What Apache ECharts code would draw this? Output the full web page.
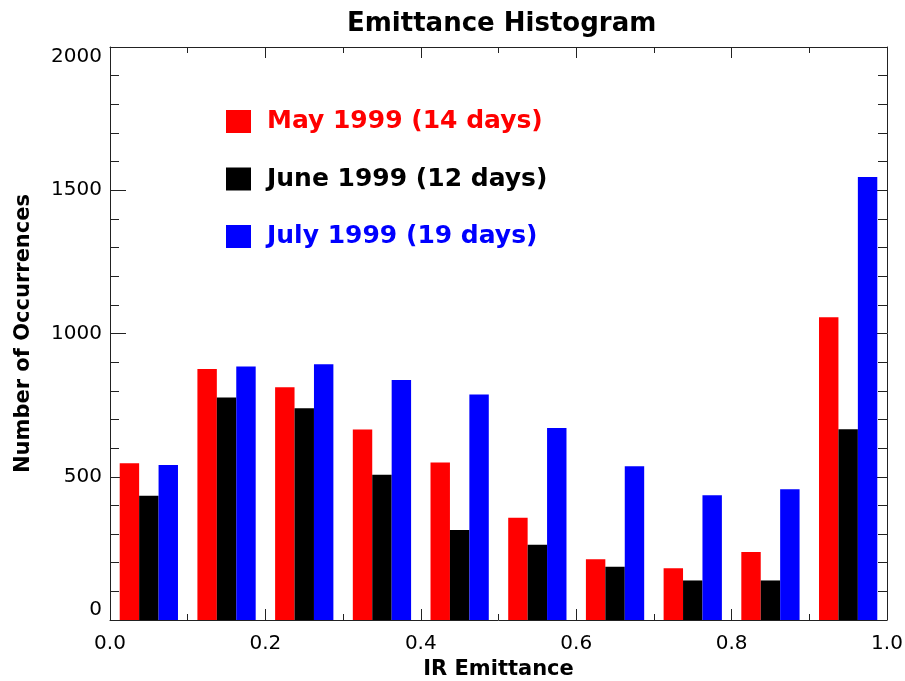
<!DOCTYPE html>
<html>
<head>
<meta charset="utf-8">
<script src="https://cdn.jsdelivr.net/npm/echarts@6/dist/echarts.min.js"></script>
<style>
  html, body { margin: 0; padding: 0; background: #fff; }
  #main { width: 905px; height: 681px; }
</style>
</head>
<body>
<div id="main"></div>
<script>
// bins of IR emittance, width 0.1
var bins = ['0.05', '0.15', '0.25', '0.35', '0.45', '0.55', '0.65', '0.75', '0.85', '0.95'];
var mayCounts = [547, 876, 812, 665, 550, 357, 212, 181, 237, 1057];
var juneCounts = [434, 777, 739, 507, 314, 263, 186, 138, 138, 666];
var julyCounts = [541, 885, 893, 838, 787, 670, 537, 435, 456, 1546];
var seriesNames = ['May 1999 (14 days)', 'June 1999 (12 days)', 'July 1999 (19 days)'];
var seriesColors = ['#ff0000', '#000000', '#0000ff'];

var chart = echarts.init(document.getElementById('main'));
var lineColor = '#222';
var font = 'DejaVu Sans';

// frame axes: ticks point inward, never snap to the other axis' zero
function frameX(pos) {
    return {
        type: 'value',
        position: pos,
        min: 0, max: 1, interval: 0.2,
        axisLine: { show: true, onZero: false, lineStyle: { color: lineColor, width: 1 } },
        axisTick: { show: true, inside: true, length: 11, lineStyle: { color: lineColor } },
        minorTick: { show: true, splitNumber: 2, length: 6, lineStyle: { color: lineColor } },
        splitLine: { show: false },
        axisLabel: { show: false }
    };
}
function frameY(pos) {
    return {
        type: 'value',
        position: pos,
        min: 0, max: 2000, interval: 500,
        axisLine: { show: true, onZero: false, lineStyle: { color: lineColor, width: 1 } },
        axisTick: { show: true, inside: true, length: 16, lineStyle: { color: lineColor } },
        minorTick: { show: true, splitNumber: 5, length: 9, lineStyle: { color: lineColor } },
        splitLine: { show: false },
        axisLabel: { show: false }
    };
}

var xBottom = frameX('bottom');
xBottom.name = 'IR Emittance';
xBottom.nameLocation = 'middle';
xBottom.nameGap = 38;
xBottom.nameTextStyle = { fontFamily: font, fontWeight: 'bold', fontSize: 21, color: '#000' };
xBottom.axisLabel = {
    show: true, margin: 14,
    fontFamily: font, fontSize: 20, color: '#000',
    formatter: function (v) { return v.toFixed(1); }
};

var yLeft = frameY('left');
yLeft.name = 'Number of Occurrences';
yLeft.nameLocation = 'middle';
yLeft.nameGap = 76;
yLeft.nameTextStyle = { fontFamily: font, fontWeight: 'bold', fontSize: 21, color: '#000' };
yLeft.axisLabel = {
    show: true, margin: 8,
    fontFamily: font, fontSize: 20, color: '#000',
    formatter: function (v) { return String(v); },
    verticalAlignMinLabel: 'bottom',
    verticalAlignMaxLabel: 'top'
};

var option = {
    animation: false,
    backgroundColor: '#fff',
    title: {
        text: 'Emittance Histogram',
        left: 342,
        top: 6,
        textStyle: { fontFamily: font, fontWeight: 'bold', fontSize: 26, color: '#000' }
    },
    legend: {
        orient: 'vertical',
        left: 221,
        top: 104,
        itemWidth: 25,
        itemHeight: 23,
        itemGap: 32.5,
        icon: 'rect',
        data: seriesNames.map(function (n, i) {
            return { name: n, textStyle: { color: seriesColors[i] } };
        }),
        textStyle: {
            fontFamily: font, fontWeight: 'bold', fontSize: 25, lineHeight: 25,
            padding: [0, 0, 0, 11]
        }
    },
    grid: { left: 110, right: 18, top: 47, bottom: 61, containLabel: false, outerBoundsMode: 'none' },
    xAxis: [
        { type: 'category', data: bins, show: false },
        xBottom,
        frameX('top')
    ],
    yAxis: [
        yLeft,
        frameY('right')
    ],
    series: [
        { name: seriesNames[0], type: 'bar', xAxisIndex: 0, yAxisIndex: 0, data: mayCounts,
          itemStyle: { color: seriesColors[0] }, barGap: '0%', barCategoryGap: '25%' },
        { name: seriesNames[1], type: 'bar', xAxisIndex: 0, yAxisIndex: 0, data: juneCounts,
          itemStyle: { color: seriesColors[1] }, barGap: '0%', barCategoryGap: '25%' },
        { name: seriesNames[2], type: 'bar', xAxisIndex: 0, yAxisIndex: 0, data: julyCounts,
          itemStyle: { color: seriesColors[2] }, barGap: '0%', barCategoryGap: '25%' }
    ]
};
chart.setOption(option);
</script>
</body>
</html>
